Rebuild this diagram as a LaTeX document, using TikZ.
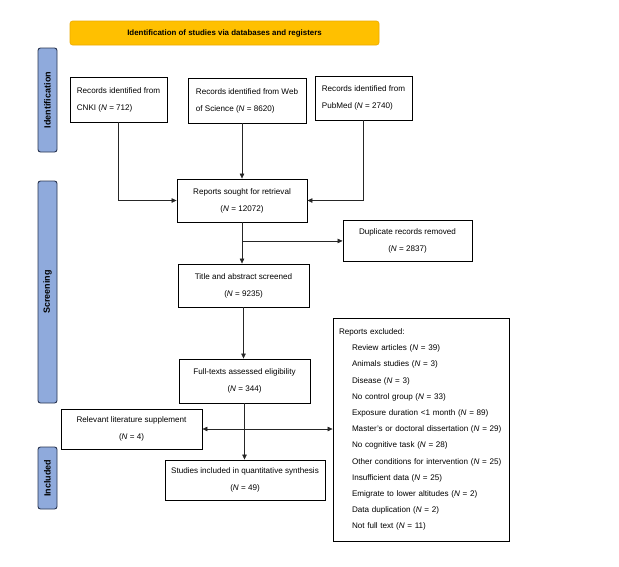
\documentclass[tikz,border=0pt]{standalone}
\usepackage{fontspec}
\setmainfont{Liberation Sans}
\usetikzlibrary{arrows.meta,calc}
\definecolor{banner}{RGB}{255,192,0}
\definecolor{bannerline}{RGB}{236,170,0}
\definecolor{barfill}{RGB}{143,170,220}
\definecolor{barline}{RGB}{40,52,80}
\begin{document}
\begin{tikzpicture}[x=1pt,y=-1pt,
  box/.style={draw=black,line width=0.9pt,inner sep=0pt,align=center,
    font=\fontsize{8.1}{17}\selectfont},
  lbox/.style={box,align=left},
  bar/.style={draw=barline,fill=barfill,line width=0.9pt,rounded corners=2.5pt,
    minimum width=19pt,inner sep=0pt,
    font=\fontsize{9}{10}\selectfont\bfseries},
  arr/.style={draw=black!85,line width=0.6pt,-{Triangle[length=5pt,width=4.5pt]}},
  dblarr/.style={draw=black!85,line width=0.6pt,{Triangle[length=5pt,width=4.5pt]}-{Triangle[length=5pt,width=4.5pt]}}]
\useasboundingbox (0,0) rectangle (619,566);
\fill[white] (0,0) rectangle (619,566);

% banner
\node[draw=bannerline,fill=banner,rounded corners=2.5pt,line width=0.6pt,
  minimum width=309pt,minimum height=24pt,inner sep=0pt,
  font=\fontsize{7.9}{9}\selectfont\bfseries] (ban) at (224.5,33)
  {Identification of studies via databases and registers};

% side bars
\node[bar,minimum height=104pt] (bid) at (47.5,100) {\rotatebox{90}{Identification}};
\node[bar,minimum height=222pt] (bsc) at (47.5,292) {\rotatebox{90}{Screening}};
\node[bar,minimum height=62pt] (bin) at (47.5,478) {\rotatebox{90}{Included}};

% identification
\node[lbox,minimum width=97pt,minimum height=45pt] (cnki) at (118.5,99.5)
  {Records identified from\\CNKI (\textit{N} = 712)};
\node[lbox,minimum width=118pt,minimum height=45pt] (wos) at (247,100.5)
  {Records identified from Web\\of Science (\textit{N} = 8620)};
\node[lbox,minimum width=97pt,minimum height=44pt] (pub) at (363.5,98)
  {Records identified from\\PubMed (\textit{N} = 2740)};

% screening
\node[box,minimum width=130pt,minimum height=43pt] (sought) at (242,200.5)
  {Reports sought for retrieval\\(\textit{N} = 12072)};
\node[box,minimum width=129pt,minimum height=41pt] (dup) at (407.5,240.5)
  {Duplicate records removed\\(\textit{N} = 2837)};
\node[box,minimum width=131pt,minimum height=43pt] (title) at (243.5,285.5)
  {Title and abstract screened\\(\textit{N} = 9235)};
\node[box,minimum width=131pt,minimum height=44pt] (full) at (244.5,381)
  {Full-texts assessed eligibility\\(\textit{N} = 344)};
\node[box,minimum width=141pt,minimum height=40pt] (rel) at (131.5,429)
  {Relevant literature supplement\\(\textit{N} = 4)};
\node[box,minimum width=160pt,minimum height=40pt] (incl) at (245,480)
  {Studies included in quantitative synthesis\\(\textit{N} = 49)};
\node[box,align=left,text width=164pt,minimum width=176pt,minimum height=223pt,
  font=\fontsize{8.1}{16.2}\selectfont] (excl) at (421,429.5)
  {Reports excluded:\\
   \hspace*{13pt}Review articles (\textit{N} = 39)\\
   \hspace*{13pt}Animals studies (\textit{N} = 3)\\
   \hspace*{13pt}Disease (\textit{N} = 3)\\
   \hspace*{13pt}No control group (\textit{N} = 33)\\
   \hspace*{13pt}Exposure duration <1 month (\textit{N} = 89)\\
   \hspace*{13pt}Master's or doctoral dissertation (\textit{N} = 29)\\
   \hspace*{13pt}No cognitive task (\textit{N} = 28)\\
   \hspace*{13pt}Other conditions for intervention (\textit{N} = 25)\\
   \hspace*{13pt}Insufficient data (\textit{N} = 25)\\
   \hspace*{13pt}Emigrate to lower altitudes (\textit{N} = 2)\\
   \hspace*{13pt}Data duplication (\textit{N} = 2)\\
   \hspace*{13pt}Not full text (\textit{N} = 11)};

% connectors
\draw[arr] (cnki.south) |- (sought.west);
\draw[arr] (sought.north |- wos.south) -- (sought.north);
\draw[arr] (pub.south) |- (sought.east);
\draw[arr] (sought.south) -- (sought.south |- title.north);
\coordinate (br) at ($(sought.south)!0.45!(sought.south |- title.north)$);
\draw[arr] (br) -- (br -| dup.west);
\draw[arr] (title.south) -- (title.south |- full.north);
\draw[arr] (full.south) -- (full.south |- incl.north);
\draw[dblarr] (rel.east) -- (rel.east -| excl.west);
\end{tikzpicture}
\end{document}
